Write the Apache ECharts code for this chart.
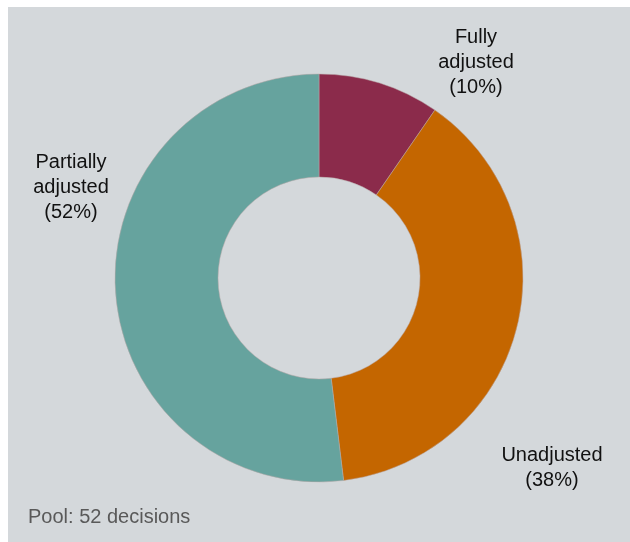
<!DOCTYPE html>
<html>
<head>
<meta charset="utf-8">
<script src="https://cdn.jsdelivr.net/npm/echarts@6/dist/echarts.min.js"></script>
<style>
html,body{margin:0;padding:0;background:#fff;}
#chart{width:630px;height:542px;}
</style>
</head>
<body>
<div id="chart"></div>
<script>
const categories = ['Fully adjusted', 'Unadjusted', 'Partially adjusted'];
const decisions = [5, 20, 27];
const colors = ['#8b2b4b', '#c46600', '#66a39e'];
const noteText = 'Pool: 52 decisions';

const labelSpots = [[476, 62], [552, 468], [71, 187]];

const chart = echarts.init(document.getElementById('chart'), null, {renderer: 'canvas'});
chart.setOption({
  backgroundColor: '#ffffff',
  animation: false,
  graphic: [
    {type: 'rect', left: 8, top: 7, shape: {width: 622, height: 535}, style: {fill: '#d4d8db'}, z: -10},
    {type: 'text', left: 28, top: 507, style: {text: noteText, fill: '#595959', font: '20px "Liberation Sans", Arial, sans-serif'}}
  ],
  series: [{
    type: 'pie',
    center: [319, 278],
    radius: [101, 204],
    startAngle: 90,
    clockwise: true,
    percentPrecision: 0,
    avoidLabelOverlap: false,
    data: categories.map((c, i) => ({name: c, value: decisions[i], itemStyle: {color: colors[i]}})),
    itemStyle: {borderWidth: 0.5, borderColor: '#b8a8a8'},
    emphasis: {disabled: true},
    labelLine: {show: false},
    label: {
      show: true,
      position: 'outside',
      color: '#111',
      fontFamily: '"Liberation Sans", Arial, sans-serif',
      fontSize: 20,
      lineHeight: 25,
      align: 'center',
      formatter: p => p.name.replace(' ', '\n') + '\n(' + p.percent + '%)'
    },
    labelLayout: p => ({
      x: labelSpots[p.dataIndex][0],
      y: labelSpots[p.dataIndex][1],
      align: 'center',
      verticalAlign: 'middle',
      hideOverlap: false
    })
  }]
});
</script>
</body>
</html>
